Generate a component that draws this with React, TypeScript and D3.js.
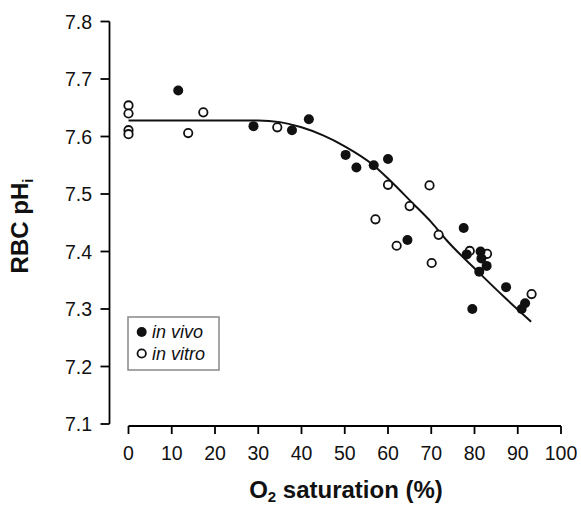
import React from "react";
import * as d3 from "d3";

const inVivoX = [11.5, 28.9, 37.8, 41.7, 50.2, 52.7, 56.7, 60.0, 64.5, 77.5, 78.2, 79.5, 81.1, 81.4, 81.6, 82.8, 87.3, 90.9, 91.7];
const inVivoY = [7.680, 7.618, 7.611, 7.630, 7.568, 7.546, 7.550, 7.561, 7.420, 7.441, 7.395, 7.300, 7.365, 7.400, 7.388, 7.375, 7.338, 7.300, 7.310];

const inVitroX = [0, 0, 0, 0, 13.8, 17.3, 34.4, 57.1, 60.0, 62.0, 65.0, 69.6, 70.1, 71.7, 78.9, 82.9, 93.2];
const inVitroY = [7.654, 7.640, 7.611, 7.604, 7.606, 7.642, 7.616, 7.456, 7.516, 7.410, 7.479, 7.515, 7.380, 7.429, 7.401, 7.396, 7.326];

const fitX = [0, 10, 20, 30, 35, 40, 45, 50, 56.5, 60, 65.7, 70, 73.5, 81.2, 87, 93.1];
const fitY = [7.628, 7.628, 7.628, 7.628, 7.625, 7.616, 7.602, 7.583, 7.551, 7.527, 7.484, 7.451, 7.42, 7.362, 7.32, 7.278];

const xTicks = [0, 10, 20, 30, 40, 50, 60, 70, 80, 90, 100];
const yTicks = [7.1, 7.2, 7.3, 7.4, 7.5, 7.6, 7.7, 7.8];

const W = 581;
const H = 506;

export default function App() {
  const x = d3.scaleLinear().domain([0, 100]).range([128.5, 561]);
  const y = d3.scaleLinear().domain([7.1, 7.8]).range([424, 21.5]);
  const yAxisX = 109.5;
  const xAxisY = 426;
  const font = "'Liberation Sans', Arial, Helvetica, sans-serif";

  const line = d3
    .line<number>()
    .x((_, i) => x(fitX[i]))
    .y((d) => y(d))
    .curve(d3.curveMonotoneX);

  return (
    <svg width={W} height={H} style={{ position: "absolute", left: 0, top: 0, background: "#fff" }} fontFamily={font}>
      {/* Y axis */}
      <line x1={yAxisX} x2={yAxisX} y1={y(7.8)} y2={y(7.1)} stroke="#000" strokeWidth={1.8} />
      {yTicks.map((t) => (
        <g key={t}>
          <line x1={yAxisX - 9} x2={yAxisX} y1={y(t)} y2={y(t)} stroke="#000" strokeWidth={1.8} />
          <text x={92} y={y(t)} dy="0.36em" textAnchor="end" fontSize={19.5} fill="#111">
            {t.toFixed(1)}
          </text>
        </g>
      ))}
      {/* X axis */}
      <line x1={x(0)} x2={x(100)} y1={xAxisY} y2={xAxisY} stroke="#000" strokeWidth={1.8} />
      {xTicks.map((t) => (
        <g key={t}>
          <line x1={x(t)} x2={x(t)} y1={xAxisY} y2={xAxisY + 8} stroke="#000" strokeWidth={1.8} />
          <text x={x(t)} y={460} textAnchor="middle" fontSize={19.5} fill="#111">
            {t}
          </text>
        </g>
      ))}
      {/* Axis titles */}
      <text x={346} y={498} textAnchor="middle" fontSize={24} fontWeight="bold" fill="#111">
        O<tspan fontSize={15} dy={4}>2</tspan>
        <tspan dy={-4}> saturation (%)</tspan>
      </text>
      <text transform={`translate(28,${226}) rotate(-90)`} textAnchor="middle" fontSize={24} fontWeight="bold" fill="#111">
        RBC pH<tspan fontSize={15} dy={5}>i</tspan>
      </text>
      {/* Fit curve */}
      <path d={line(fitY) || ""} fill="none" stroke="#111" strokeWidth={2} />
      {/* Points */}
      {inVitroX.map((v, i) => (
        <circle key={"o" + i} cx={x(v)} cy={y(inVitroY[i])} r={4.2} fill="#fff" stroke="#111" strokeWidth={1.8} />
      ))}
      {inVivoX.map((v, i) => (
        <circle key={"f" + i} cx={x(v)} cy={y(inVivoY[i])} r={5} fill="#111" />
      ))}
      {/* Legend */}
      <rect x={128} y={317} width={91} height={53} fill="#fff" stroke="#888" strokeWidth={1.5} />
      <circle cx={141.7} cy={332} r={5} fill="#111" />
      <text x={152} y={338} fontSize={18} fontStyle="italic" fill="#111">in vivo</text>
      <circle cx={141.7} cy={353.5} r={4.2} fill="#fff" stroke="#111" strokeWidth={1.8} />
      <text x={152} y={359.5} fontSize={18} fontStyle="italic" fill="#111">in vitro</text>
    </svg>
  );
}
